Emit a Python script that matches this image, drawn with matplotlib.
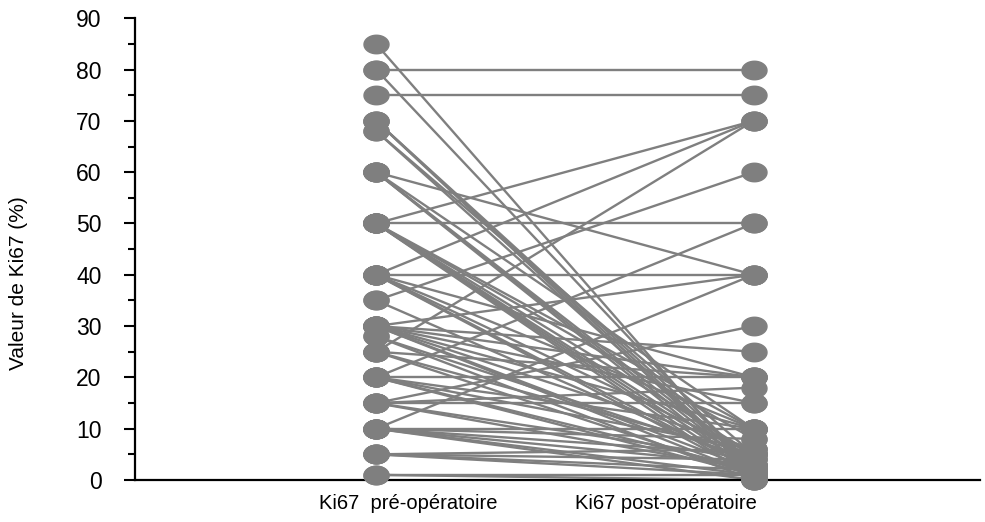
import numpy as np
import matplotlib
matplotlib.use("Agg")
import matplotlib.pyplot as plt
from matplotlib.path import Path

# Ki67 avant / après chirurgie, une paire par patiente
pre = [85, 80, 80, 75, 70, 70, 70, 68, 68,
       60, 60, 60, 60, 60,
       50, 50, 50, 50, 50, 50, 50, 50, 50,
       40, 40, 40, 40, 40, 40, 40,
       35, 35,
       30, 30, 30, 30, 30, 30, 30, 30,
       28, 28,
       25, 25, 25, 25,
       20, 20, 20, 20, 20, 20,
       15, 15, 15, 15, 15,
       10, 10, 10, 10, 10, 10, 10,
       5, 5, 5, 5,
       1, 1]
post = [1, 80, 2, 75, 3, 2, 1, 2, 5,
        40, 3, 2, 1, 10,
        70, 50, 5, 3, 2, 1, 10, 0, 8,
        70, 40, 5, 2, 10, 20, 1,
        60, 3,
        40, 25, 20, 10, 6, 2, 1, 15,
        4, 0,
        70, 20, 5, 1,
        50, 20, 10, 6, 2, 1,
        30, 18, 15, 4, 2,
        40, 10, 5, 3, 1, 8, 0,
        6, 2, 1, 4,
        1, 0]
groups = ["Ki67  pré-opératoire", "Ki67 post-opératoire"]

plt.rcParams["font.family"] = ["Liberation Sans", "DejaVu Sans"]

# marqueur ellipse (plus large que haut)
t = np.linspace(0, 2 * np.pi, 60)
ellipse = Path(np.column_stack([np.cos(t), 0.74 * np.sin(t)]), closed=True)

grey = "#7f7f7f"
fig = plt.figure(figsize=(9.85, 5.22), dpi=100)
ax = fig.add_axes([0.137, 0.0805, 0.858, 0.8845])

for a, b in zip(pre, post):
    ax.plot([1, 2], [a, b], color=grey, lw=1.7, zorder=2, solid_capstyle="butt")
ax.plot([1] * len(pre), pre, ls="none", marker=ellipse, ms=18, color=grey, zorder=3)
ax.plot([2] * len(post), post, ls="none", marker=ellipse, ms=18, color=grey, zorder=3)

ax.set_xlim(0.361, 2.6)
ax.set_ylim(0, 90)
ax.set_yticks(range(0, 91, 10))
ax.set_yticks(range(5, 90, 10), minor=True)
# les libellés du graphique d'origine ne sont pas centrés sous les points
ax.set_xticks([1.085, 1.769])
ax.set_xticklabels(groups, fontsize=14.5)
ax.tick_params(axis="x", length=0, pad=10)
ax.tick_params(axis="y", which="major", length=8, width=1.5, labelsize=16.5, pad=16)
ax.tick_params(axis="y", which="minor", length=5, width=1.5)
ax.set_ylabel("Valeur de Ki67 (%)", fontsize=15)
ax.yaxis.set_label_coords(-0.127, 0.426)

for s in ["top", "right"]:
    ax.spines[s].set_visible(False)
for s in ["left", "bottom"]:
    ax.spines[s].set_linewidth(1.6)
for m in ax.lines:
    m.set_clip_on(False)

fig.savefig("out.png", dpi=100)
